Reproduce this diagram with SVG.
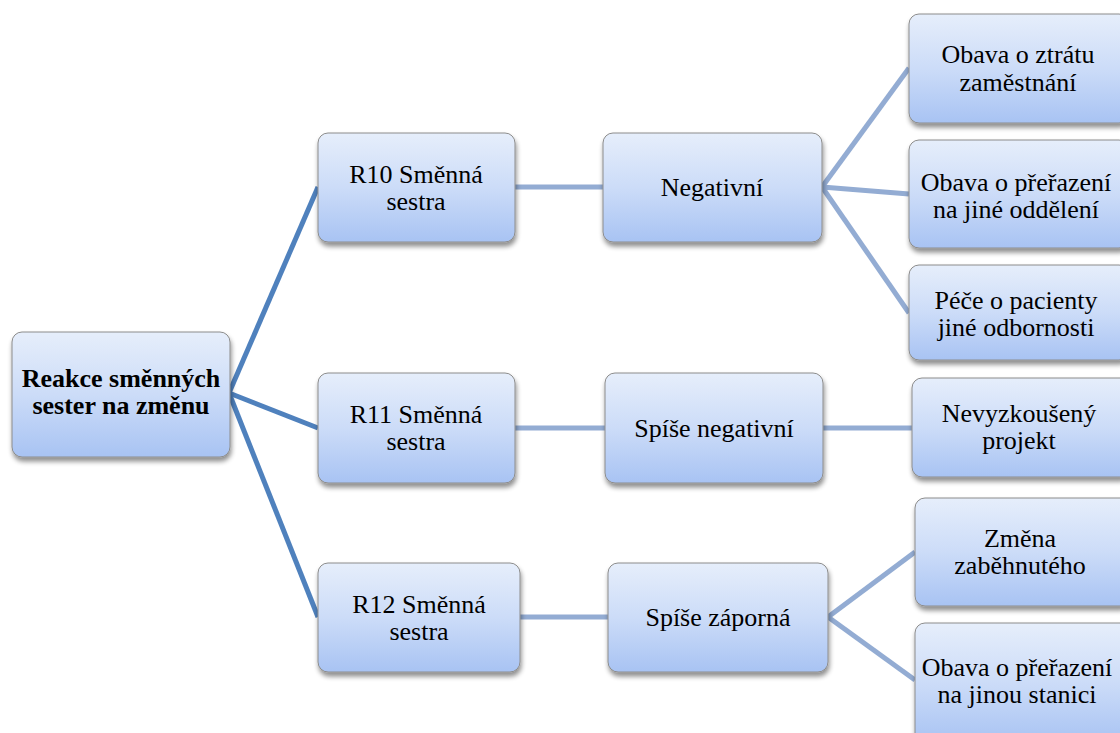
<svg xmlns="http://www.w3.org/2000/svg" width="1120" height="733" viewBox="0 0 1120 733">
  <defs>
    <linearGradient id="boxFill" x1="0" y1="0" x2="0" y2="1">
      <stop offset="0" stop-color="#e6eefb"/>
      <stop offset="0.5" stop-color="#ccdcf8"/>
      <stop offset="1" stop-color="#a8c3f3"/>
    </linearGradient>
    <filter id="shadow" x="-10%" y="-10%" width="125%" height="130%">
      <feGaussianBlur in="SourceAlpha" stdDeviation="2.5"/>
      <feOffset dx="1" dy="4" result="b"/>
      <feComponentTransfer><feFuncA type="linear" slope="0.45"/></feComponentTransfer>
      <feMerge><feMergeNode/><feMergeNode in="SourceGraphic"/></feMerge>
    </filter>
  </defs>
  <style>
    .box { fill: url(#boxFill); stroke: #8c8c8c; stroke-width: 1; filter: url(#shadow); }
    text { font-family: 'Liberation Serif', 'DejaVu Serif', serif; font-size: 26px; fill: #000; text-anchor: middle; }
    .root { font-weight: bold; }
    .l1 { stroke: #4f81bd; stroke-width: 5; fill: none; }
    .l2 { stroke: #93acd3; stroke-width: 5; fill: none; }
  </style>
  <rect width="1120" height="733" fill="#ffffff"/>

  <g id="connectors">
    <line class="l1" x1="229" y1="393" x2="318" y2="187"/>
    <line class="l1" x1="229" y1="393" x2="318" y2="428"/>
    <line class="l1" x1="229" y1="393" x2="318" y2="617"/>
    <line class="l2" x1="515" y1="187" x2="603" y2="187"/>
    <line class="l2" x1="515" y1="428" x2="605" y2="428"/>
    <line class="l2" x1="520" y1="617" x2="608" y2="617"/>
    <line class="l2" x1="822" y1="187" x2="909" y2="68"/>
    <line class="l2" x1="822" y1="187" x2="909" y2="194"/>
    <line class="l2" x1="822" y1="187" x2="909" y2="313"/>
    <line class="l2" x1="823" y1="428" x2="912" y2="428"/>
    <line class="l2" x1="828" y1="617" x2="915" y2="552"/>
    <line class="l2" x1="828" y1="617" x2="915" y2="680"/>
  </g>

  <g id="root-node">
    <rect class="box" x="12" y="332" width="218" height="125" rx="10"/>
    <text class="root" x="121" y="387">Reakce směnných</text>
    <text class="root" x="121" y="414">sester na změnu</text>
  </g>

  <g id="r10">
    <rect class="box" x="318" y="133" width="197" height="109" rx="10"/>
    <text x="416" y="183">R10 Směnná</text>
    <text x="416" y="210">sestra</text>
  </g>
  <g id="r11">
    <rect class="box" x="318" y="373" width="197" height="110" rx="10"/>
    <text x="416" y="423">R11 Směnná</text>
    <text x="416" y="450">sestra</text>
  </g>
  <g id="r12">
    <rect class="box" x="318" y="563" width="202" height="109" rx="10"/>
    <text x="419" y="613">R12 Směnná</text>
    <text x="419" y="640">sestra</text>
  </g>

  <g id="negativni">
    <rect class="box" x="603" y="133" width="219" height="109" rx="10"/>
    <text x="712" y="196">Negativní</text>
  </g>
  <g id="spise-negativni">
    <rect class="box" x="605" y="373" width="218" height="110" rx="10"/>
    <text x="714" y="437">Spíše negativní</text>
  </g>
  <g id="spise-zaporna">
    <rect class="box" x="608" y="563" width="220" height="109" rx="10"/>
    <text x="718" y="626">Spíše záporná</text>
  </g>

  <g id="obava-ztrata">
    <rect class="box" x="909" y="14" width="220" height="109" rx="10"/>
    <text x="1018" y="63">Obava o ztrátu</text>
    <text x="1018" y="91">zaměstnání</text>
  </g>
  <g id="obava-oddeleni">
    <rect class="box" x="909" y="140" width="220" height="108" rx="10"/>
    <text x="1016" y="191">Obava o přeřazení</text>
    <text x="1016" y="218">na jiné oddělení</text>
  </g>
  <g id="pece-pacienty">
    <rect class="box" x="909" y="265" width="220" height="95" rx="10"/>
    <text x="1016" y="309">Péče o pacienty</text>
    <text x="1016" y="336">jiné odbornosti</text>
  </g>
  <g id="nevyzkouseny">
    <rect class="box" x="912" y="378" width="218" height="99" rx="10"/>
    <text x="1019" y="422">Nevyzkoušený</text>
    <text x="1019" y="449">projekt</text>
  </g>
  <g id="zmena">
    <rect class="box" x="915" y="498" width="215" height="108" rx="10"/>
    <text x="1020" y="547">Změna</text>
    <text x="1020" y="574">zaběhnutého</text>
  </g>
  <g id="obava-stanice">
    <rect class="box" x="915" y="623" width="215" height="120" rx="10"/>
    <text x="1017" y="676">Obava o přeřazení</text>
    <text x="1017" y="703">na jinou stanici</text>
  </g>
</svg>
